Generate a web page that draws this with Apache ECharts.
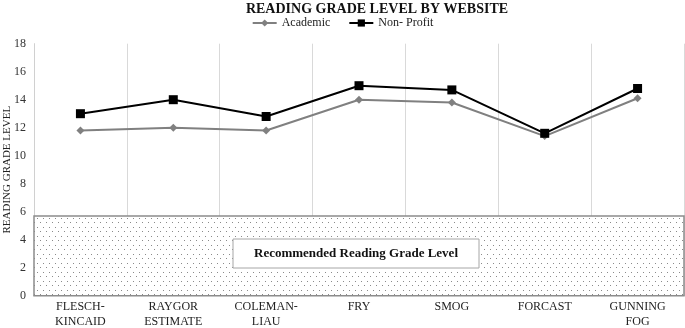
<!DOCTYPE html>
<html><head><meta charset="utf-8">
<script src="https://cdn.jsdelivr.net/npm/echarts@6/dist/echarts.min.js"></script>
<style>html,body{margin:0;padding:0;background:#fff}#c{width:685px;height:328px}</style>
</head><body><div id="c"></div>
<script>
const categories = ['FLESCH-\nKINCAID','RAYGOR\nESTIMATE','COLEMAN-\nLIAU','FRY','SMOG','FORCAST','GUNNING\nFOG'];
const academic = [11.8, 12.0, 11.8, 14.0, 13.8, 11.4, 14.1];
const nonProfit = [13.0, 14.0, 12.8, 15.0, 14.7, 11.6, 14.8];
const recommendedMax = 5.7;
const recommendedLabel = 'Recommended Reading Grade Level';
const yTicks = {min: 0, max: 18, interval: 2};

const pc = document.createElement('canvas');
pc.width = 6; pc.height = 9;
const pctx = pc.getContext('2d');
pctx.fillStyle = '#fff'; pctx.fillRect(0,0,6,9);
pctx.fillStyle = '#8a8a8a';
pctx.fillRect(1,2,1,1);
pctx.fillRect(4,6,1,1);

const serif = '"Liberation Serif","DejaVu Serif",serif';
const chart = echarts.init(document.getElementById('c'));
chart.setOption({
  animation:false,
  title:{text:'READING GRADE LEVEL BY WEBSITE', left:372, textAlign:'center', top:-3,
    textStyle:{fontFamily:serif, fontWeight:'bold', fontSize:14, color:'#111'}},
  legend:{top:12, left:'center', itemWidth:24, itemHeight:9, itemGap:18,
    textStyle:{fontFamily:serif, fontSize:12, color:'#222'},
    data:['Academic','Non- Profit']},
  grid:{left:34, right:1, top:43.7, bottom:32.3, containLabel:false, outerBoundsMode:'none'},
  xAxis:{type:'category', data:categories, boundaryGap:true,
    axisLine:{show:true, lineStyle:{color:'#a0a0a0'}}, axisTick:{show:false},
    splitLine:{show:true, lineStyle:{color:'#d9d9d9', width:1}},
    axisLabel:{fontFamily:serif, fontSize:12, color:'#222', margin:4, lineHeight:15, interval:0}},
  yAxis:{type:'value', min:yTicks.min, max:yTicks.max, interval:yTicks.interval,
    name:'READING GRADE LEVEL', nameLocation:'middle', nameGap:21, nameRotate:90, nameMoveOverlap:false,
    nameTextStyle:{fontFamily:serif, fontSize:11, color:'#222'},
    axisLine:{show:true, lineStyle:{color:'#d0d0d0'}}, axisTick:{show:false},
    splitLine:{show:false},
    axisLabel:{fontFamily:serif, fontSize:12, color:'#333', margin:8}},
  series:[
    {name:'Academic', type:'line', data:academic, symbol:'diamond', symbolSize:8,
      lineStyle:{color:'#808080', width:2}, itemStyle:{color:'#808080'}, z:3,
      markArea:{silent:true, itemStyle:{color:{image:pc, repeat:'repeat'}, borderColor:'#8c8c8c', borderWidth:1.5},
        data:[[{yAxis:0},{yAxis:recommendedMax}]]}},
    {name:'Non- Profit', type:'line', data:nonProfit, symbol:'rect', symbolSize:9,
      lineStyle:{color:'#000', width:2}, itemStyle:{color:'#000'}, z:4}
  ],
  graphic:[
    {type:'rect', shape:{x:233, y:239, width:246, height:29},
      style:{fill:'#fff', stroke:'#a6a6a6', lineWidth:1}, z:10},
    {type:'text', x:356, y:253.5, style:{text:recommendedLabel, fontFamily:serif, fontWeight:'bold',
      fontSize:13, fill:'#111', align:'center', verticalAlign:'middle'}, z:11}
  ]
});
</script></body></html>
